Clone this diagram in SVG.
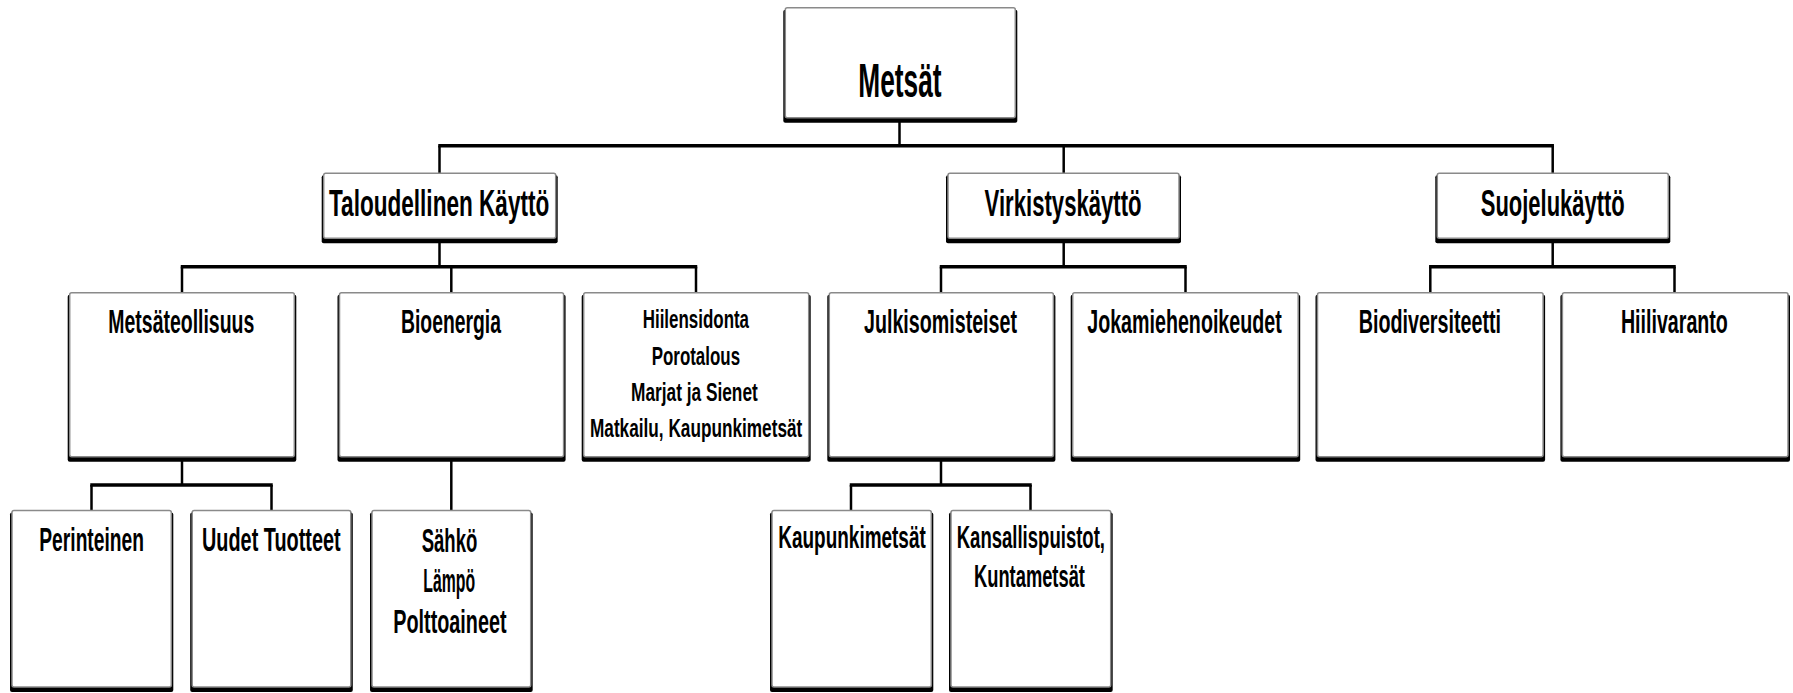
<svg xmlns="http://www.w3.org/2000/svg" width="1793" height="693" viewBox="0 0 1793 693">
<style>
.sh{fill:#000}
.bx{fill:#fff;stroke:#8a8a8a;stroke-width:1.5}
.t{font-family:"Liberation Sans",Arial,sans-serif;font-weight:bold;fill:#000}
.bus{stroke:#000;stroke-width:3.5;fill:none}
.v{stroke:#000;stroke-width:2.5;fill:none}
</style>
<rect width="1793" height="693" fill="#fff"/>
<g id="connectors">
<line class="v" x1="899.5" y1="121" x2="899.5" y2="146"/>
<line class="bus" x1="438.25" y1="145.7" x2="1553.95" y2="145.7"/>
<line class="v" x1="439.5" y1="145.7" x2="439.5" y2="173"/>
<line class="v" x1="1063.7" y1="145.7" x2="1063.7" y2="173"/>
<line class="v" x1="1552.7" y1="145.7" x2="1552.7" y2="173"/>
<line class="v" x1="439.5" y1="242" x2="439.5" y2="267"/>
<line class="v" x1="1063.7" y1="242" x2="1063.7" y2="267"/>
<line class="v" x1="1552.7" y1="242" x2="1552.7" y2="267"/>
<line class="bus" x1="180.75" y1="266.7" x2="697.25" y2="266.7"/>
<line class="bus" x1="939.75" y1="266.7" x2="1186.75" y2="266.7"/>
<line class="bus" x1="1429.05" y1="266.7" x2="1675.75" y2="266.7"/>
<line class="v" x1="182" y1="266.7" x2="182" y2="292.5"/>
<line class="v" x1="451.3" y1="266.7" x2="451.3" y2="292.5"/>
<line class="v" x1="696" y1="266.7" x2="696" y2="292.5"/>
<line class="v" x1="941" y1="266.7" x2="941" y2="292.5"/>
<line class="v" x1="1185.5" y1="266.7" x2="1185.5" y2="292.5"/>
<line class="v" x1="1430.3" y1="266.7" x2="1430.3" y2="292.5"/>
<line class="v" x1="1674.5" y1="266.7" x2="1674.5" y2="292.5"/>
<line class="v" x1="182" y1="460" x2="182" y2="485"/>
<line class="v" x1="941" y1="460" x2="941" y2="485"/>
<line class="v" x1="451.3" y1="460" x2="451.3" y2="510"/>
<line class="bus" x1="90.25" y1="485" x2="272.75" y2="485"/>
<line class="bus" x1="849.75" y1="485" x2="1031.75" y2="485"/>
<line class="v" x1="91.5" y1="485" x2="91.5" y2="510"/>
<line class="v" x1="271.5" y1="485" x2="271.5" y2="510"/>
<line class="v" x1="851" y1="485" x2="851" y2="510"/>
<line class="v" x1="1030.5" y1="485" x2="1030.5" y2="510"/>
</g>
<g id="n-metsat">
<rect class="sh" x="783.3" y="9.7" width="234" height="113" rx="2"/>
<rect class="bx" x="785.3" y="7.7" width="230" height="110" rx="2"/>
<g transform="scale(0.6 1)"><text class="t" x="1430.5" y="97" font-size="48" textLength="138.8" lengthAdjust="spacingAndGlyphs">Metsät</text></g>
</g>
<g id="n-taloudellinen">
<rect class="sh" x="321.7" y="175.3" width="236" height="68" rx="2"/>
<rect class="bx" x="323.7" y="173.3" width="232" height="65" rx="2"/>
<g transform="scale(0.6 1)"><text class="t" x="548.3" y="216" font-size="36.5" textLength="367.2" lengthAdjust="spacingAndGlyphs">Taloudellinen Käyttö</text></g>
</g>
<g id="n-virkistys">
<rect class="sh" x="946" y="175.3" width="235" height="68" rx="2"/>
<rect class="bx" x="948" y="173.3" width="231" height="65" rx="2"/>
<g transform="scale(0.6 1)"><text class="t" x="1641" y="216" font-size="36.5" textLength="261.7" lengthAdjust="spacingAndGlyphs">Virkistyskäyttö</text></g>
</g>
<g id="n-suojelu">
<rect class="sh" x="1435.3" y="175.3" width="235" height="68" rx="2"/>
<rect class="bx" x="1437.3" y="173.3" width="231" height="65" rx="2"/>
<g transform="scale(0.6 1)"><text class="t" x="2468" y="216" font-size="36.5" textLength="240" lengthAdjust="spacingAndGlyphs">Suojelukäyttö</text></g>
</g>
<g id="n-metsateollisuus">
<rect class="sh" x="67.7" y="294.7" width="228.6" height="167" rx="2"/>
<rect class="bx" x="69.7" y="292.7" width="224.6" height="164" rx="2"/>
<g transform="scale(0.6 1)"><text class="t" x="180.5" y="333" font-size="33" textLength="243.3" lengthAdjust="spacingAndGlyphs">Metsäteollisuus</text></g>
</g>
<g id="n-bioenergia">
<rect class="sh" x="337.5" y="294.7" width="228.1" height="167" rx="2"/>
<rect class="bx" x="339.5" y="292.7" width="224.1" height="164" rx="2"/>
<g transform="scale(0.6 1)"><text class="t" x="668.3" y="333" font-size="33" textLength="166.7" lengthAdjust="spacingAndGlyphs">Bioenergia</text></g>
</g>
<g id="n-hiilensidonta">
<rect class="sh" x="581.7" y="294.7" width="229" height="167" rx="2"/>
<rect class="bx" x="583.7" y="292.7" width="225" height="164" rx="2"/>
<g transform="scale(0.6 1)">
<text class="t" x="1071.2" y="328.5" font-size="25.5" textLength="177.2" lengthAdjust="spacingAndGlyphs">Hiilensidonta</text>
<text class="t" x="1086.2" y="365" font-size="25.5" textLength="147.2" lengthAdjust="spacingAndGlyphs">Porotalous</text>
<text class="t" x="1051.7" y="400.7" font-size="25.5" textLength="211.2" lengthAdjust="spacingAndGlyphs">Marjat ja Sienet</text>
<text class="t" x="983.3" y="436.7" font-size="25.5" textLength="353.8" lengthAdjust="spacingAndGlyphs">Matkailu, Kaupunkimetsät</text>
</g>
</g>
<g id="n-julkisomisteiset">
<rect class="sh" x="827.3" y="294.7" width="228.1" height="167" rx="2"/>
<rect class="bx" x="829.3" y="292.7" width="224.1" height="164" rx="2"/>
<g transform="scale(0.6 1)"><text class="t" x="1440" y="333" font-size="33" textLength="255" lengthAdjust="spacingAndGlyphs">Julkisomisteiset</text></g>
</g>
<g id="n-jokamiehenoikeudet">
<rect class="sh" x="1070.7" y="294.7" width="229.5" height="167" rx="2"/>
<rect class="bx" x="1072.7" y="292.7" width="225.5" height="164" rx="2"/>
<g transform="scale(0.6 1)"><text class="t" x="1812" y="333" font-size="33" textLength="324.3" lengthAdjust="spacingAndGlyphs">Jokamiehenoikeudet</text></g>
</g>
<g id="n-biodiversiteetti">
<rect class="sh" x="1315.5" y="294.7" width="229.6" height="167" rx="2"/>
<rect class="bx" x="1317.5" y="292.7" width="225.6" height="164" rx="2"/>
<g transform="scale(0.6 1)"><text class="t" x="2264.5" y="333" font-size="33" textLength="237.2" lengthAdjust="spacingAndGlyphs">Biodiversiteetti</text></g>
</g>
<g id="n-hiilivaranto">
<rect class="sh" x="1560.4" y="294.7" width="229.6" height="167" rx="2"/>
<rect class="bx" x="1562.4" y="292.7" width="225.6" height="164" rx="2"/>
<g transform="scale(0.6 1)"><text class="t" x="2701.5" y="333" font-size="33" textLength="178.3" lengthAdjust="spacingAndGlyphs">Hiilivaranto</text></g>
</g>
<g id="n-perinteinen">
<rect class="sh" x="10" y="512.5" width="163.3" height="179.5" rx="2"/>
<rect class="bx" x="12" y="510.5" width="159.3" height="176.5" rx="2"/>
<g transform="scale(0.6 1)"><text class="t" x="65.5" y="551" font-size="33" textLength="174.5" lengthAdjust="spacingAndGlyphs">Perinteinen</text></g>
</g>
<g id="n-uudet">
<rect class="sh" x="190.2" y="512.5" width="162.6" height="179.5" rx="2"/>
<rect class="bx" x="192.2" y="510.5" width="158.6" height="176.5" rx="2"/>
<g transform="scale(0.6 1)"><text class="t" x="336.7" y="551" font-size="33" textLength="231" lengthAdjust="spacingAndGlyphs">Uudet Tuotteet</text></g>
</g>
<g id="n-sahko">
<rect class="sh" x="370" y="512.5" width="162.7" height="179.5" rx="2"/>
<rect class="bx" x="372" y="510.5" width="158.7" height="176.5" rx="2"/>
<g transform="scale(0.6 1)">
<text class="t" x="702.8" y="552.5" font-size="33" textLength="92.8" lengthAdjust="spacingAndGlyphs">Sähkö</text>
<text class="t" x="705.5" y="592" font-size="33" textLength="86.2" lengthAdjust="spacingAndGlyphs">Lämpö</text>
<text class="t" x="655.5" y="633" font-size="33" textLength="188.8" lengthAdjust="spacingAndGlyphs">Polttoaineet</text>
</g>
</g>
<g id="n-kaupunkimetsat">
<rect class="sh" x="770" y="512.5" width="163.3" height="179.5" rx="2"/>
<rect class="bx" x="772" y="510.5" width="159.3" height="176.5" rx="2"/>
<g transform="scale(0.6 1)"><text class="t" x="1297.2" y="548.3" font-size="30.5" textLength="245.7" lengthAdjust="spacingAndGlyphs">Kaupunkimetsät</text></g>
</g>
<g id="n-kansallispuistot">
<rect class="sh" x="949" y="512.5" width="163.7" height="179.5" rx="2"/>
<rect class="bx" x="951" y="510.5" width="159.7" height="176.5" rx="2"/>
<g transform="scale(0.6 1)">
<text class="t" x="1594.5" y="548.3" font-size="30.5" textLength="247.2" lengthAdjust="spacingAndGlyphs">Kansallispuistot,</text>
<text class="t" x="1623.3" y="586.7" font-size="30.5" textLength="185" lengthAdjust="spacingAndGlyphs">Kuntametsät</text>
</g>
</g>
</svg>
